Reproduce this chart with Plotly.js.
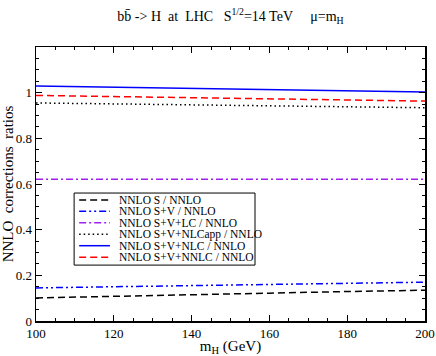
<!DOCTYPE html>
<html>
<head>
<meta charset="utf-8">
<script src="https://cdn.plot.ly/plotly-3.0.1.min.js"></script>
<style>
  body { margin: 0; background: #fff; }
  #plot { width: 436px; height: 356px; }
</style>
</head>
<body>
<div id="plot"></div>
<script>
// Higgs mass (GeV)
var mH = [100, 120, 140, 160, 180, 200];

// ratios
var nnloS       = [0.101, 0.109, 0.116, 0.122, 0.129, 0.135];
var nnloSV      = [0.145, 0.150, 0.155, 0.160, 0.165, 0.170];
var nnloSVLC    = [0.621, 0.621, 0.621, 0.621, 0.621, 0.621];
var nnloNLCapp  = [0.955, 0.951, 0.947, 0.943, 0.938, 0.934];
var nnloNLC     = [1.029, 1.024, 1.019, 1.014, 1.009, 1.003];
var nnloNNLC    = [0.988, 0.983, 0.978, 0.973, 0.968, 0.963];

var names = [
  'NNLO S / NNLO',
  'NNLO S+V / NNLO',
  'NNLO S+V+LC / NNLO',
  'NNLO S+V+NLCapp / NNLO',
  'NNLO S+V+NLC / NNLO',
  'NNLO S+V+NNLC / NNLO'
];
var series = [nnloS, nnloSV, nnloSVLC, nnloNLCapp, nnloNLC, nnloNNLC];
var colors = ['#000000', '#0000ff', '#a020f0', '#000000', '#0000ff', '#ff0000'];
var dashes = ['7px,4px', '7px,3px,2px,3px,2px,3px', '7px,3px,2px,3px', '1.5px,3px', 'solid', '7px,4px'];

var font = 'Liberation Serif, Times New Roman, serif';

var data = series.map(function (ys, i) {
  return {
    x: mH,
    y: ys,
    name: names[i],
    type: 'scatter',
    mode: 'lines',
    line: {color: colors[i], width: 1.5, dash: dashes[i]},
    showlegend: false
  };
});

// hand made legend (plotly's legend rows are too tall for this figure)
var legX0 = 0.098, legX1 = 0.563, legY0 = 0.204, legY1 = 0.467;
var rowTop = 0.442, rowStep = 0.0418;
var shapes = [{
  type: 'rect', xref: 'paper', yref: 'paper',
  x0: legX0, x1: legX1, y0: legY0, y1: legY1,
  line: {color: '#000', width: 1}, fillcolor: '#fff', layer: 'below'
}];
var annotations = [];
names.forEach(function (n, i) {
  var yy = rowTop - i * rowStep;
  shapes.push({
    type: 'line', xref: 'paper', yref: 'paper',
    x0: 0.111, x1: 0.19, y0: yy, y1: yy,
    line: {color: colors[i], width: 1.5, dash: dashes[i]}
  });
  annotations.push({
    xref: 'paper', yref: 'paper', x: 0.208, y: yy,
    xanchor: 'left', yanchor: 'middle', showarrow: false,
    text: n, font: {family: font, size: 11.5, color: '#000'}
  });
});

var layout = {
  width: 436,
  height: 356,
  margin: {l: 36, r: 11, t: 47, b: 35},
  paper_bgcolor: '#fff',
  plot_bgcolor: '#fff',
  font: {family: font, size: 13, color: '#000'},
  title: {
    text: 'bb\u0304 -> H \u00a0at \u00a0LHC \u00a0 S<sup>1/2</sup>=14 TeV \u00a0 \u00a0 \u03bc=m<sub>H</sub>',
    font: {family: font, size: 14, color: '#000'},
    xref: 'paper', x: 0.5, y: 0.955, yanchor: 'middle'
  },
  xaxis: {
    range: [100, 200],
    tickvals: [100, 120, 140, 160, 180, 200],
    ticks: 'inside', ticklen: 6, tickwidth: 1, tickcolor: '#000',
    minor: {tickmode: 'linear', tick0: 100, dtick: 5, ticks: 'inside', ticklen: 3, tickcolor: '#000'},
    showline: true, linecolor: '#000', linewidth: 1.5, mirror: 'ticks',
    showgrid: false, zeroline: false,
    title: {text: 'm<sub>H</sub> (GeV)', font: {family: font, size: 15}, standoff: 2}
  },
  yaxis: {
    range: [0, 1.2],
    tickvals: [0, 0.2, 0.4, 0.6, 0.8, 1],
    ticktext: ['0', '0.2', '0.4', '0.6', '0.8', '1'],
    ticks: 'inside', ticklen: 6, tickwidth: 1, tickcolor: '#000',
    minor: {tickmode: 'linear', tick0: 0, dtick: 0.05, ticks: 'inside', ticklen: 3, tickcolor: '#000'},
    showline: true, linecolor: '#000', linewidth: 1.5, mirror: 'ticks',
    showgrid: false, zeroline: false,
    title: {text: 'NNLO \u00a0corrections \u00a0ratios', font: {family: font, size: 15}, standoff: 2}
  },
  shapes: shapes,
  annotations: annotations
};

Plotly.newPlot('plot', data, layout, {displayModeBar: false, staticPlot: true});
</script>
</body>
</html>
